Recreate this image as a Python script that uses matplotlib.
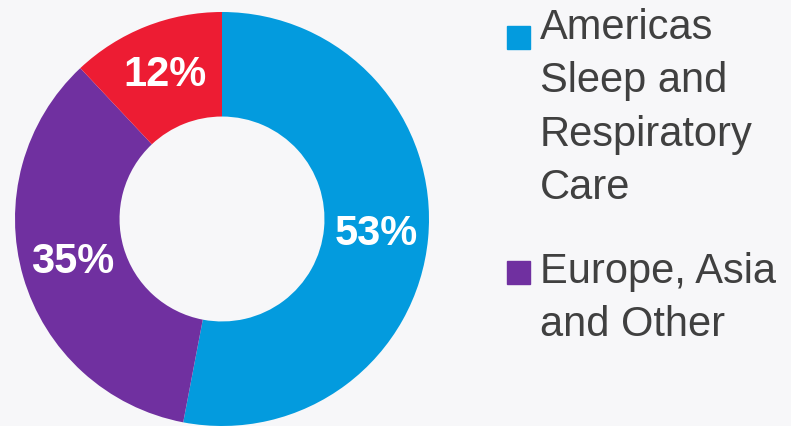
import matplotlib.pyplot as plt
from matplotlib.patches import Rectangle

# segment data (clockwise from 12 o'clock)
segments = ['Americas Sleep and Respiratory Care', 'Europe, Asia and Other', 'Other']
shares = [53, 35, 12]
colors = ['#039BDE', '#7030A0', '#ED1C33']

# legend only shows the first two segments
legend_labels = ['Americas\nSleep and\nRespiratory\nCare', 'Europe, Asia\nand Other']
legend_colors = ['#039BDE', '#7030A0']

bg = '#F7F7F9'
W, H = 791, 426

fig = plt.figure(figsize=(W / 100, H / 100), dpi=100, facecolor=bg)
plt.rcParams['font.family'] = ['Liberation Sans', 'DejaVu Sans']

# donut: centre (222, 219) px, outer radius 207 px
cx, cy, r = 222, 219, 207
ax = fig.add_axes([(cx - r) / W, (H - cy - r) / H, 2 * r / W, 2 * r / H])
ax.set_facecolor(bg)

wedges, texts, autotexts = ax.pie(shares, colors=colors, startangle=90, counterclock=False,
                                  radius=1, autopct=lambda p: '%.0f%%' % p, pctdistance=0.75,
                                  wedgeprops=dict(width=0.505, linewidth=0),
                                  textprops=dict(color='white', fontsize=30, fontweight='bold'))
ax.set_xlim(-1, 1)
ax.set_ylim(-1, 1)
ax.set_aspect('equal')
ax.axis('off')

# manual legend, squares aligned to first line of each label
text_x = 540 / W
box_x = 507 / W
step = 49  # px between lines
first_baselines = [52, 287]
for lab, col, yb in zip(legend_labels, legend_colors, first_baselines):
    n = lab.count('\n')
    # va='baseline' anchors the last line
    fig.text(text_x, 1 - (yb + n * step) / H, lab, fontsize=30, color='#404040',
             va='baseline', ha='left', linespacing=1.43)
    fig.patches.append(Rectangle((box_x, 1 - (yb - 3) / H), 23 / W, 23 / H,
                                 transform=fig.transFigure, color=col, figure=fig))

fig.savefig('out.png', dpi=100, facecolor=bg)
